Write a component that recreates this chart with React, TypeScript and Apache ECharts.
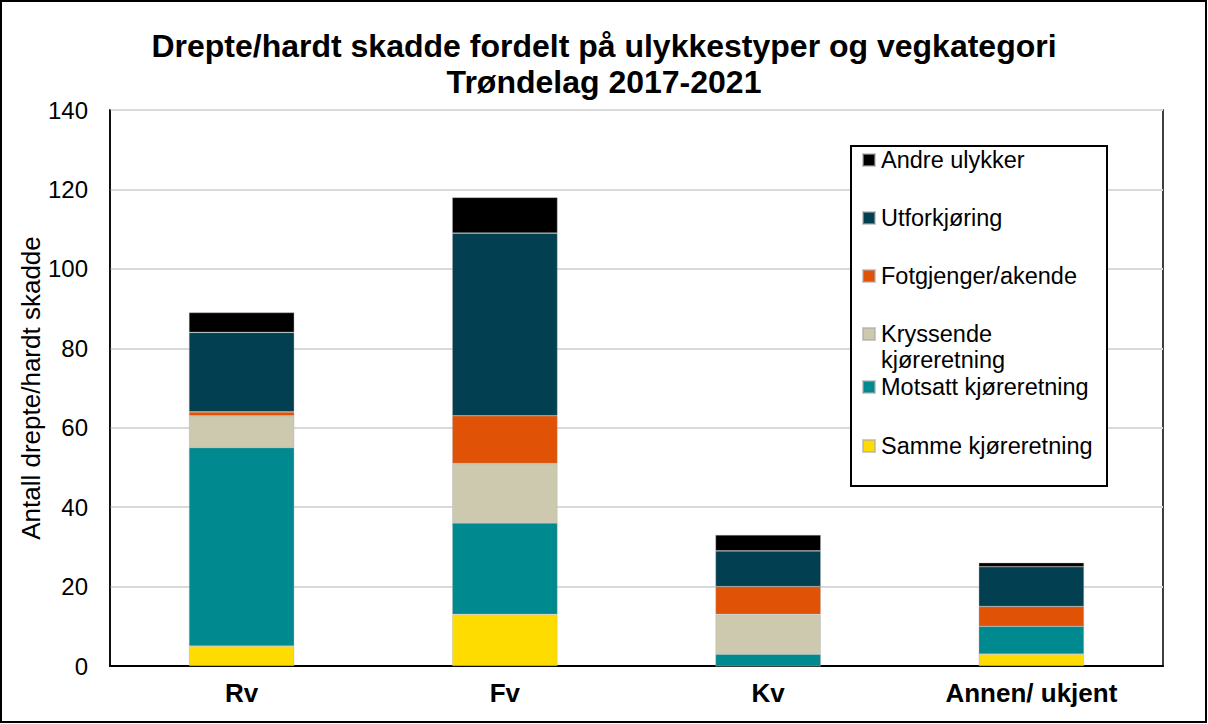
import React, { useEffect, useRef } from "react";
import * as echarts from "echarts";

const categories = ["Rv", "Fv", "Kv", "Annen/ ukjent"];
const seriesNames = [
  "Samme kjøreretning",
  "Motsatt kjøreretning",
  "Kryssende kjøreretning",
  "Fotgjenger/akende",
  "Utforkjøring",
  "Andre ulykker",
];
const samme = [5, 13, 0, 3];
const motsatt = [50, 23, 3, 7];
const kryssende = [8, 15, 10, 0];
const fotgjenger = [1, 12, 7, 5];
const utfor = [20, 46, 9, 10];
const andre = [5, 9, 4, 1];
const colors = ["#FFDC00", "#008A8F", "#CDC9AF", "#E05306", "#023F50", "#000000"];
const yTicks = { min: 0, max: 140, interval: 20 };

const FONT = "'Liberation Sans', Arial, sans-serif";

export default function App() {
  const ref = useRef<HTMLDivElement>(null);
  useEffect(() => {
    if (!ref.current) return;
    const chart = echarts.init(ref.current, null, { renderer: "svg" });
    const values = [samme, motsatt, kryssende, fotgjenger, utfor, andre];
    const series = seriesNames.map((name, i) => ({
      name,
      type: "bar",
      stack: "total",
      barWidth: "40%",
      data: values[i],
      itemStyle: { color: colors[i], borderColor: "rgba(170,170,170,0.6)", borderWidth: 0.6 },
    }));
    // legend entries, top to bottom
    const legendCenters = [160, 218, 276, 334, 387, 446];
    const legendOrder = [5, 4, 3, 2, 1, 0];
    const legends = legendOrder.map((si, k) => {
      const isKryss = si === 2;
      return {
        data: [seriesNames[si]],
        orient: "vertical",
        left: 862,
        top: isKryss ? legendCenters[k] - 39 : legendCenters[k] - 12,
        padding: 0,
        itemWidth: 12,
        itemHeight: 12,
        itemGap: 0,
        icon: "rect",
        z: 5,
        formatter: isKryss ? () => "\nKryssende\nkjøreretning" : undefined,
        textStyle: {
          fontFamily: FONT,
          fontSize: 23.5,
          color: "#000",
          lineHeight: isKryss ? 26 : 24,
          padding: [0, 0, 0, 1],
        },
      };
    });
    chart.setOption({
      animation: false,
      title: {
        text: "Drepte/hardt skadde fordelt på ulykkestyper og vegkategori\nTrøndelag 2017-2021",
        left: "center",
        top: 28,
        padding: 0,
        textStyle: { fontFamily: FONT, fontSize: 32, fontWeight: "bold", color: "#000", lineHeight: 36 },
      },
      grid: {
        left: 110,
        top: 110,
        right: 45,
        bottom: 58,
        show: true,
        borderColor: "#000",
        borderWidth: 1.5,
        backgroundColor: "transparent",
      },
      legend: legends,
      xAxis: {
        type: "category",
        data: categories,
        axisLine: { lineStyle: { color: "#000", width: 2 } },
        axisTick: { show: false },
        axisLabel: { fontFamily: FONT, fontSize: 26, fontWeight: "bold", color: "#000", margin: 14 },
      },
      yAxis: {
        type: "value",
        min: yTicks.min,
        max: yTicks.max,
        interval: yTicks.interval,
        name: "Antall drepte/hardt skadde",
        nameLocation: "middle",
        nameGap: 66,
        nameMoveOverlap: false,
        nameTextStyle: { fontFamily: FONT, fontSize: 26, color: "#000" },
        axisLine: { show: true, lineStyle: { color: "#000", width: 1.5 } },
        axisTick: { show: false },
        axisLabel: { fontFamily: FONT, fontSize: 24, color: "#000", margin: 22 },
        splitLine: { lineStyle: { color: "#D9D9D9", width: 2 } },
      },
      graphic: [
        {
          type: "rect",
          z: 3,
          shape: { x: 851, y: 146, width: 256, height: 340 },
          style: { fill: "#fff", stroke: "#000", lineWidth: 2 },
        },
        {
          type: "rect",
          z: 10,
          silent: true,
          shape: { x: 1, y: 1, width: 1205, height: 721 },
          style: { fill: "none", stroke: "#000", lineWidth: 2 },
        },
      ],
      series,
    });
    return () => chart.dispose();
  }, []);
  return (
    <div
      ref={ref}
      style={{ position: "fixed", left: 0, top: 0, width: 1208, height: 724, background: "#fff" }}
    />
  );
}
